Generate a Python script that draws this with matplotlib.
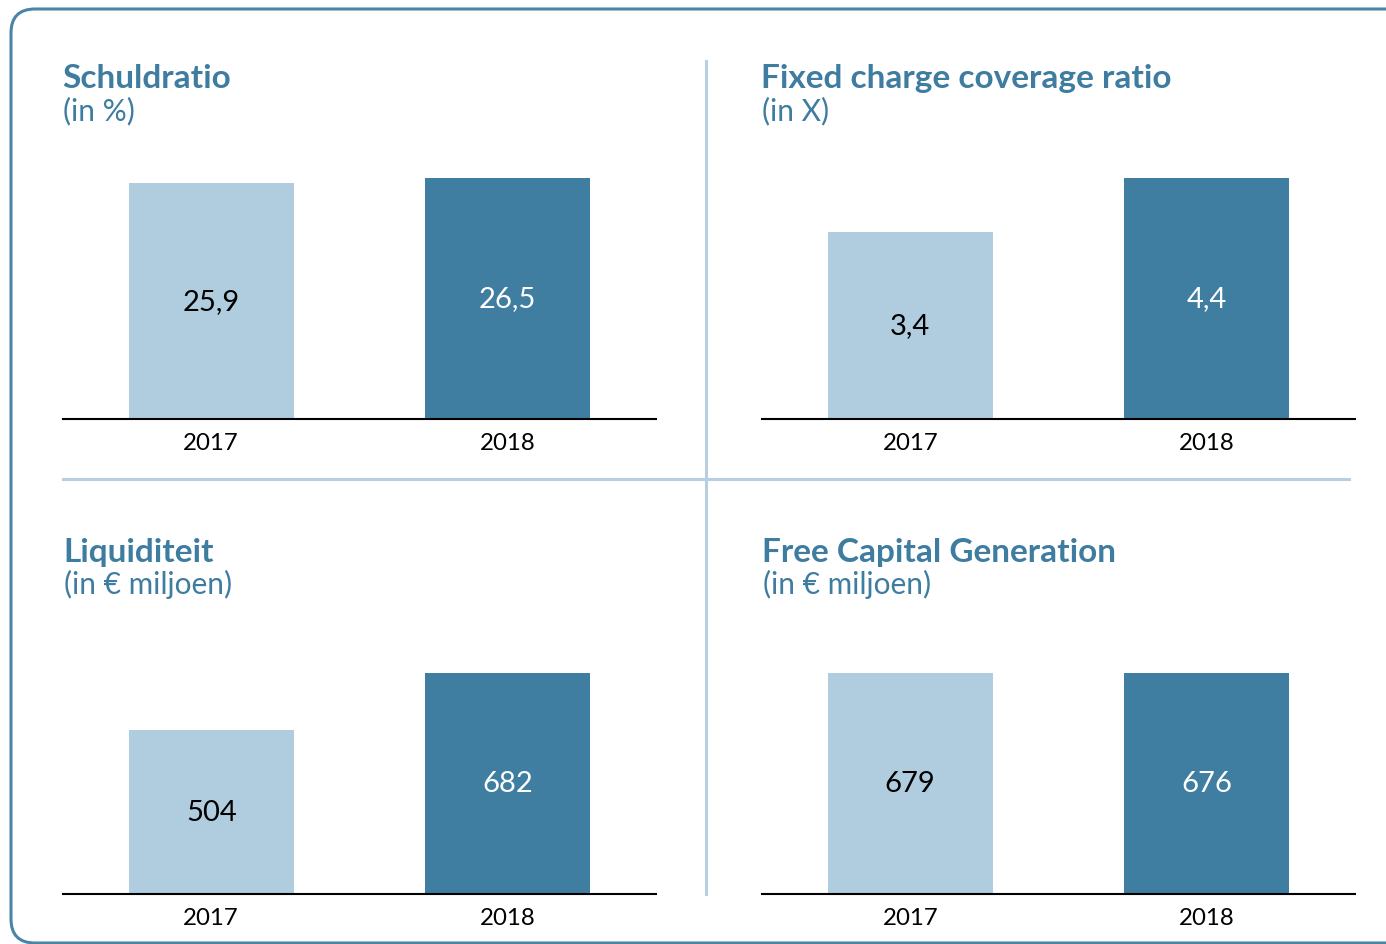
import matplotlib.pyplot as plt
from matplotlib.patches import FancyBboxPatch

plt.rcParams['font.family'] = ['Lato', 'DejaVu Sans']

years = ['2017', '2018']
titles = ['Schuldratio', 'Fixed charge coverage ratio', 'Liquiditeit', 'Free Capital Generation']
subtitles = ['(in %)', '(in X)', '(in \u20ac miljoen)', '(in \u20ac miljoen)']
schuldratio = [25.9, 26.5]
fccr = [3.4, 4.4]
liquiditeit = [504, 682]
fcg = [679, 676]
values = [schuldratio, fccr, liquiditeit, fcg]
labels = [['25,9', '26,5'], ['3,4', '4,4'], ['504', '682'], ['679', '676']]

light = '#AFCDDF'
dark = '#3F7EA1'
title_col = '#3E7CA0'
div_col = '#B7CFE0'

W, H = 1386, 945
fig = plt.figure(figsize=(W / 100, H / 100), dpi=100)

# overlay in pixel coordinates for the frame, dividers and titles
bg = fig.add_axes([0, 0, 1, 1])
bg.set_xlim(0, W)
bg.set_ylim(H, 0)
bg.axis('off')
frame = FancyBboxPatch((11, 10), 1420, 934, boxstyle='round,pad=0,rounding_size=24',
                       fc='none', ec='#4A84A8', lw=2.2)
bg.add_patch(frame)
bg.plot([706, 706], [62, 895], color=div_col, lw=2.2)
bg.plot([63, 1349], [480, 480], color=div_col, lw=2.2)

# panel geometry (pixels): left, baseline, plot height
lefts = [63, 762, 64, 763]
baselines = [419.5, 419.5, 894.5, 894.5]
heights = [241, 241, 221, 221]
title_y = [88, 88, 562, 562]

for i in range(4):
    x0 = 63 if i % 2 == 0 else 762
    ax = fig.add_axes([x0 / W, 1 - baselines[i] / H, 593 / W, heights[i] / H])
    ax.bar([0, 1], values[i], width=0.557, color=[light, dark])
    ax.set_xlim(-0.5, 1.5)
    ax.set_ylim(0, max(values[i]))
    ax.set_xticks([0, 1])
    ax.set_xticklabels(years, fontsize=17.3)
    ax.tick_params(axis='x', length=0, pad=10)
    ax.set_yticks([])
    for s in ['top', 'left', 'right']:
        ax.spines[s].set_visible(False)
    ax.spines['bottom'].set_linewidth(1.5)
    for j, v in enumerate(values[i]):
        ax.text(j, v / 2, labels[i][j], ha='center', va='center', fontsize=21,
                color='black' if j == 0 else 'white')
    bg.text(lefts[i] - 1, title_y[i], titles[i], fontsize=24, fontweight='bold',
            color=title_col, va='baseline', ha='left')
    bg.text(lefts[i], title_y[i] + 32, subtitles[i], fontsize=21.5,
            color=title_col, va='baseline', ha='left')

fig.savefig('out.png', dpi=100)
